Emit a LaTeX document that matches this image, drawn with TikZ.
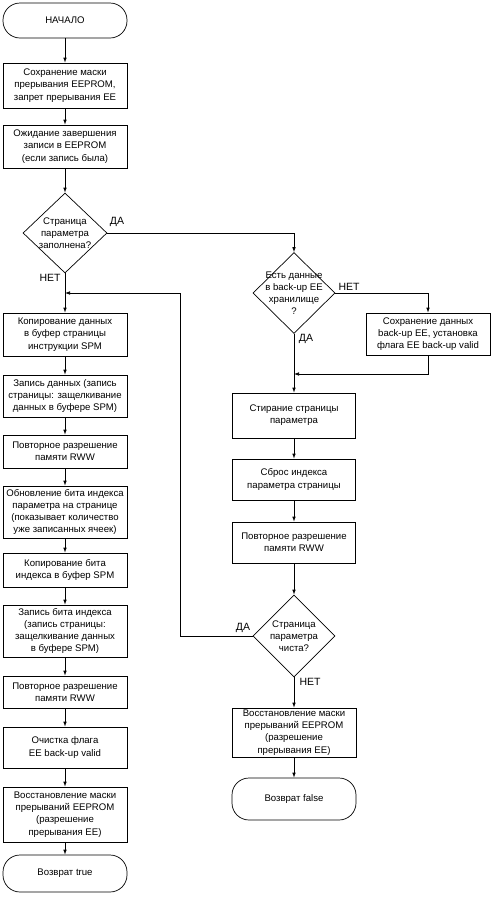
\documentclass[tikz,border=0pt]{standalone}
\usepackage{fontspec}
\setmainfont{Liberation Sans}
\usetikzlibrary{arrows.meta,shapes.geometric}
\begin{document}
\begin{tikzpicture}[x=1pt,y=-1pt,
  every node/.style={font=\fontsize{9.6}{12.2}\selectfont},
  box/.style={draw,line width=0.7pt,rectangle,minimum width=124pt,inner sep=0pt,align=center},
  term/.style={draw,line width=0.7pt,rectangle,rounded corners=17pt,minimum width=124pt,inner sep=0pt,align=center},
  dia/.style={draw,line width=0.7pt,diamond,inner sep=0pt},
  dtext/.style={align=center,inner sep=0pt},
  lbl/.style={font=\fontsize{10.5}{12}\selectfont,inner sep=0pt},
  arr/.style={line width=0.7pt,-{Latex[length=5pt,width=3.6pt]}},
  ln/.style={line width=0.7pt}]
\useasboundingbox (0,0) rectangle (493,903);
% left column
\node[term,minimum height=35pt] (start) at (65,20.5) {НАЧАЛО};
\node[box,minimum height=45pt] (b1) at (65,85.5) {Сохранение маски\\прерывания EEPROM,\\запрет прерывания EE};
\node[box,minimum height=43pt] (b2) at (65,146.5) {Ожидание завершения\\записи в EEPROM\\(если запись была)};
\node[dia,minimum width=84pt,minimum height=80pt] (d1) at (65,233) {};
\node[dtext] (d1t) at (d1.center) {Страница\\параметра\\заполнена?};
\node[box,minimum height=43pt] (b3) at (65,334.5) {Копирование данных\\в буфер страницы\\инструкции SPM};
\node[box,minimum height=42pt] (b4) at (65,396) {Запись данных (запись\\страницы: защелкивание\\данных в буфере SPM)};
\node[box,minimum height=33pt] (b5) at (65,451.5) {Повторное разрешение\\памяти RWW};
\node[box,minimum height=52pt] (b6) at (65,512) {Обновление бита индекса\\параметра на странице\\(показывает количество\\уже записанных ячеек)};
\node[box,minimum height=34pt] (b7) at (65,570) {Копирование бита\\индекса в буфер SPM};
\node[box,minimum height=52pt] (b8) at (65,631) {Запись бита индекса\\(запись страницы:\\защелкивание данных\\в буфере SPM)};
\node[box,minimum height=32pt] (b9) at (65,692) {Повторное разрешение\\памяти RWW};
\node[box,minimum height=41pt] (b10) at (65,747.5) {Очистка флага\\EE back-up valid};
\node[box,minimum height=55pt] (b11) at (65,814.5) {Восстановление маски\\прерываний EEPROM\\(разрешение\\прерывания EE)};
\node[term,minimum height=37pt] (endT) at (65,873.5) {Возврат true};
% right column
\node[dia,minimum width=82pt,minimum height=81pt] (d2) at (294,293) {};
\node[dtext] (d2t) at (d2.center) {Есть данные\\в back-up EE\\хранилище\\?};
\node[box,minimum height=42pt] (r1) at (428,334) {Сохранение данных\\back-up EE, установка\\флага EE back-up valid};
\node[box,minimum height=45pt,minimum width=123pt] (r2) at (294,415.5) {Стирание страницы\\параметра};
\node[box,minimum height=41pt,minimum width=123pt] (r3) at (294,479.5) {Сброс индекса\\параметра страницы};
\node[box,minimum height=41pt,minimum width=123pt] (r4) at (294,542.5) {Повторное разрешение\\памяти RWW};
\node[dia,minimum width=82pt,minimum height=82pt] (d3) at (294,636) {};
\node[dtext] (d3t) at (d3.center) {Страница\\параметра\\чиста?};
\node[box,minimum height=49pt,minimum width=124pt] (r5) at (294,732.5) {Восстановление маски\\прерываний EEPROM\\(разрешение\\прерывания EE)};
\node[term,minimum height=42pt,minimum width=124pt] (endF) at (294,799) {Возврат false};
% coordinates
\coordinate (lp) at (65,293);
\coordinate (lc) at (180,293);
\coordinate (m) at (294,374);
% labels
\node[lbl] (l1) at (117,222) {ДА};
\node[lbl] (l2) at (50,278) {НЕТ};
\node[lbl] (l3) at (349,287) {НЕТ};
\node[lbl] (l4) at (306,339) {ДА};
\node[lbl] (l5) at (243,628) {ДА};
\node[lbl] (l6) at (310,682) {НЕТ};
% connectors left
\draw[arr] (start) -- (b1);
\draw[arr] (b1) -- (b2);
\draw[arr] (b2) -- (d1.north);
\draw[arr] (d1.south) -- (b3);
\draw[arr] (b3) -- (b4);
\draw[arr] (b4) -- (b5);
\draw[arr] (b5) -- (b6);
\draw[arr] (b6) -- (b7);
\draw[arr] (b7) -- (b8);
\draw[arr] (b8) -- (b9);
\draw[arr] (b9) -- (b10);
\draw[arr] (b10) -- (b11);
\draw[arr] (b11) -- (endT);
% connectors right
\draw[arr] (d1.east) -| (d2.north);
\draw[arr] (d2.east) -| (r1.north);
\draw[arr] (d2.south) -- (r2);
\draw[arr] (r1.south) |- (m);
\draw[arr] (r2) -- (r3);
\draw[arr] (r3) -- (r4);
\draw[arr] (r4) -- (d3.north);
\draw[arr] (d3.south) -- (r5);
\draw[arr] (r5) -- (endF);
\draw[arr] (d3.west) -| (lc) -- (lp);
\end{tikzpicture}
\end{document}
